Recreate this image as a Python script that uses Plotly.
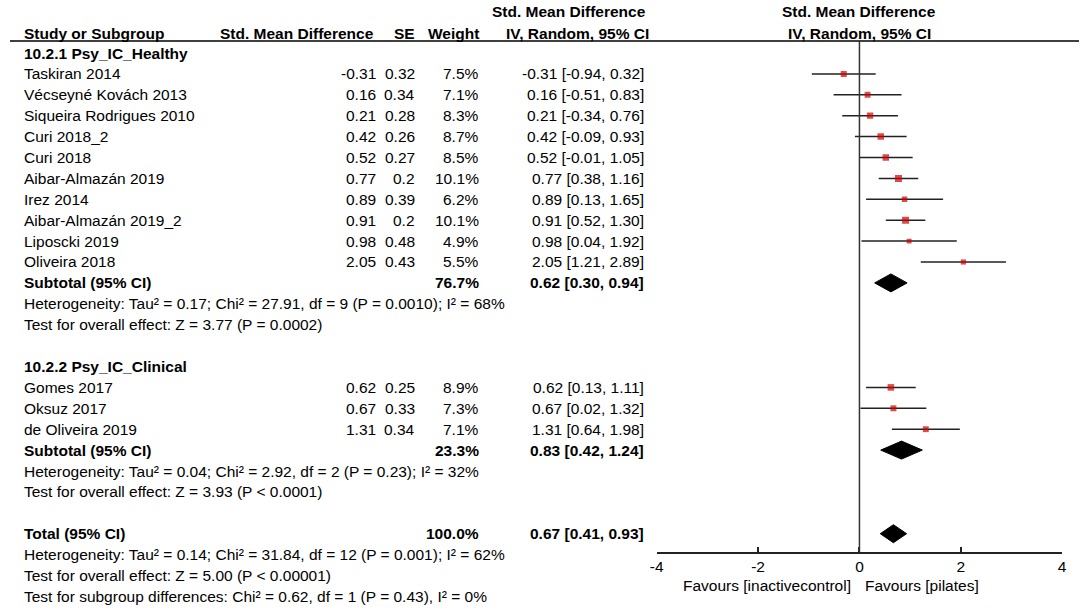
import plotly.graph_objects as go

# Canvas
W, H = 1084, 609
ROW0 = 53      # pixel centre of the first row
ROW_H = 20.9   # pixel height of a row
FONT = "Liberation Sans"
FS = 15.5

# Data: 10.2.1 Psy_IC_Healthy
studies_h = ["Taskiran 2014", "Vécseyné Kovách 2013", "Siqueira Rodrigues 2010", "Curi 2018_2",
             "Curi 2018", "Aibar-Almazán 2019", "Irez 2014", "Aibar-Almazán 2019_2",
             "Liposcki 2019", "Oliveira 2018"]
smd_h = [-0.31, 0.16, 0.21, 0.42, 0.52, 0.77, 0.89, 0.91, 0.98, 2.05]
se_h = ["0.32", "0.34", "0.28", "0.26", "0.27", "0.2", "0.39", "0.2", "0.48", "0.43"]
weight_h = [7.5, 7.1, 8.3, 8.7, 8.5, 10.1, 6.2, 10.1, 4.9, 5.5]
lo_h = [-0.94, -0.51, -0.34, -0.09, -0.01, 0.38, 0.13, 0.52, 0.04, 1.21]
hi_h = [0.32, 0.83, 0.76, 0.93, 1.05, 1.16, 1.65, 1.30, 1.92, 2.89]

# Data: 10.2.2 Psy_IC_Clinical
studies_c = ["Gomes 2017", "Oksuz 2017", "de Oliveira 2019"]
smd_c = [0.62, 0.67, 1.31]
se_c = ["0.25", "0.33", "0.34"]
weight_c = [8.9, 7.3, 7.1]
lo_c = [0.13, 0.02, 0.64]
hi_c = [1.11, 1.32, 1.98]

# Pooled estimates: [healthy subtotal, clinical subtotal, total]
pooled_label = ["Subtotal (95% CI)", "Subtotal (95% CI)", "Total (95% CI)"]
pooled_weight = ["76.7%", "23.3%", "100.0%"]
pooled_est = [0.62, 0.83, 0.67]
pooled_lo = [0.30, 0.42, 0.41]
pooled_hi = [0.94, 1.24, 0.93]

group_names = ["10.2.1 Psy_IC_Healthy", "10.2.2 Psy_IC_Clinical"]
stats_h = ["Heterogeneity: Tau² = 0.17; Chi² = 27.91, df = 9 (P = 0.0010); I² = 68%",
           "Test for overall effect: Z = 3.77 (P = 0.0002)"]
stats_c = ["Heterogeneity: Tau² = 0.04; Chi² = 2.92, df = 2 (P = 0.23); I² = 32%",
           "Test for overall effect: Z = 3.93 (P < 0.0001)"]
stats_total = ["Heterogeneity: Tau² = 0.14; Chi² = 31.84, df = 12 (P = 0.001); I² = 62%",
               "Test for overall effect: Z = 5.00 (P < 0.00001)",
               "Test for subgroup differences: Chi² = 0.62, df = 1 (P = 0.43), I² = 0%"]

tick_vals = [-4, -2, 0, 2, 4]
tick_text = ["-4", "-2", "0", "2", "4"]
favours_left = "Favours [inactivecontrol]"
favours_right = "Favours [pilates]"

# Row indices of each block
rows_h = list(range(1, 1 + len(studies_h)))
sub_rows = [11, 19, 23]
rows_c = list(range(16, 16 + len(studies_c)))
group_rows = [0, 15]

# Plot area in pixels
PX_LEFT, PX_RIGHT = 657, 1067
PX_TOP, PX_BOTTOM = 41, 552


def row_px(i):
    return ROW0 + i * ROW_H


def py(px):
    return 1 - px / H


def px_x(px):
    return px / W


annotations = []


def txt(x, y, s, anchor="left", bold=False):
    if bold:
        s = "<b>" + s + "</b>"
    annotations.append(dict(x=px_x(x), y=py(y), xref="paper", yref="paper", text=s,
                            showarrow=False, xanchor=anchor, yanchor="middle",
                            font=dict(family=FONT, size=FS, color="black")))


# Column positions (annotation box edges; the glyphs sit ~2px inside)
X_NAME = 15
X_SMD_HDR = 373
X_SMD = 375
X_SE = 415
X_W = 479
X_CI = 646

# Header
txt(X_NAME, 33, "Study or Subgroup", bold=True)
txt(X_SMD_HDR, 33, "Std. Mean Difference", "right", bold=True)
txt(X_SE, 33, "SE", "right", bold=True)
txt(X_W, 33, "Weight", "right", bold=True)
txt(568, 12, "Std. Mean Difference", "center", bold=True)
txt(577, 33, "IV, Random, 95% CI", "center", bold=True)
txt(862, 12, "Std. Mean Difference", "center", bold=True)
txt(862, 33, "IV, Random, 95% CI", "center", bold=True)

# Group headings
for name, r in zip(group_names, group_rows):
    txt(X_NAME, row_px(r), name, bold=True)

# Study rows
for names, smd, se, w, lo, hi, rows in [(studies_h, smd_h, se_h, weight_h, lo_h, hi_h, rows_h),
                                        (studies_c, smd_c, se_c, weight_c, lo_c, hi_c, rows_c)]:
    for n, m, s, wt, l, h, r in zip(names, smd, se, w, lo, hi, rows):
        y = row_px(r)
        txt(X_NAME, y, n)
        txt(X_SMD, y, f"{m:.2f}", "right")
        txt(X_SE, y, s, "right")
        txt(X_W, y, f"{wt:.1f}%", "right")
        txt(X_CI, y, f"{m:.2f} [{l:.2f}, {h:.2f}]", "right")

# Subtotal / total rows
for lab, wt, est, l, h, r in zip(pooled_label, pooled_weight, pooled_est, pooled_lo, pooled_hi, sub_rows):
    y = row_px(r)
    txt(X_NAME, y, lab, bold=True)
    txt(X_W, y, wt, "right", bold=True)
    txt(X_CI, y, f"{est:.2f} [{l:.2f}, {h:.2f}]", "right", bold=True)

# Statistics lines
for lines, start in [(stats_h, 12), (stats_c, 20), (stats_total, 24)]:
    for k, s in enumerate(lines):
        txt(X_NAME, row_px(start + k), s)

# Favours labels
txt(855, 585, favours_left, "right")
txt(866, 585, favours_right, "left")

fig = go.Figure()

# Confidence interval whiskers
ci_x, ci_y = [], []
for lo, hi, rows in [(lo_h, hi_h, rows_h), (lo_c, hi_c, rows_c)]:
    for l, h, r in zip(lo, hi, rows):
        ci_x += [l, h, None]
        ci_y += [r, r, None]
fig.add_trace(go.Scatter(x=ci_x, y=ci_y, mode="lines", line=dict(color="#222222", width=1.5),
                         hoverinfo="skip", showlegend=False))

# Study squares sized by weight
all_smd = smd_h + smd_c
all_rows = rows_h + rows_c
all_w = weight_h + weight_c
fig.add_trace(go.Scatter(x=all_smd, y=all_rows, mode="markers",
                         marker=dict(symbol="square", color="#cc0000",
                                     size=[2.2 * w ** 0.5 for w in all_w], line=dict(width=0)),
                         showlegend=False))

# Pooled diamonds
half = 0.43
for est, l, h, r in zip(pooled_est, pooled_lo, pooled_hi, sub_rows):
    fig.add_trace(go.Scatter(x=[l, est, h, est, l], y=[r, r - half, r, r + half, r],
                             mode="lines", fill="toself", fillcolor="black",
                             line=dict(color="black", width=1), showlegend=False))

# Header rule and line of no effect
fig.add_shape(type="line", xref="paper", yref="paper", x0=px_x(3), x1=1,
              y0=py(PX_TOP), y1=py(PX_TOP), line=dict(color="black", width=1.5))
fig.add_shape(type="line", xref="x", yref="paper", x0=0, x1=0,
              y0=py(PX_BOTTOM), y1=py(PX_TOP), line=dict(color="#333333", width=1.5))

y_top = (PX_TOP - ROW0) / ROW_H
y_bot = (PX_BOTTOM - ROW0) / ROW_H

fig.update_layout(
    width=W, height=H,
    margin=dict(l=0, r=0, t=0, b=0),
    paper_bgcolor="white", plot_bgcolor="white",
    annotations=annotations,
    xaxis=dict(domain=[px_x(PX_LEFT), px_x(PX_RIGHT)], range=[-4, 4],
               showgrid=False, zeroline=False, showline=True, linecolor="#222222", linewidth=1.5,
               ticks="inside", ticklen=5, tickwidth=1.5, tickcolor="#222222",
               tickvals=tick_vals, ticktext=tick_text,
               tickfont=dict(family=FONT, size=FS, color="black")),
    yaxis=dict(domain=[py(PX_BOTTOM), py(PX_TOP)], range=[y_bot, y_top], visible=False),
    showlegend=False,
)

# remove the default page margin so the figure sits at the window's top-left corner
fig.write_html("out.html", config={"displayModeBar": False},
               post_script="document.body.style.margin='0';")
